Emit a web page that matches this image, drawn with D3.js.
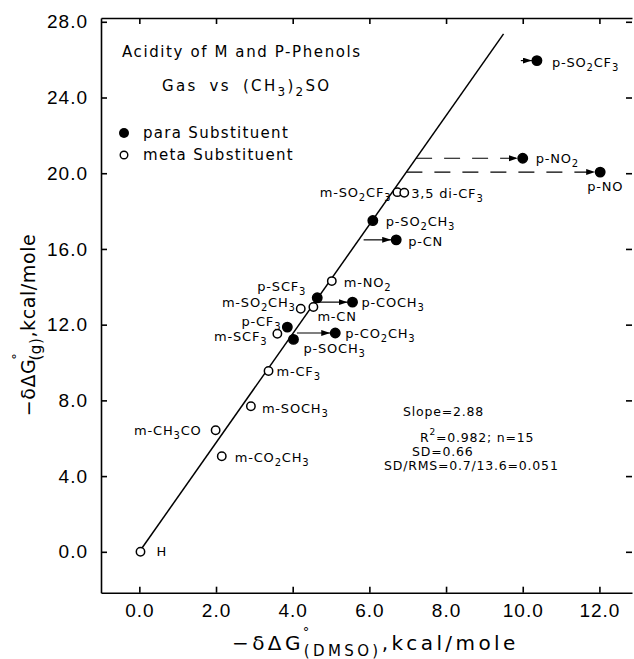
<!DOCTYPE html>
<meta charset="utf-8">
<style>
  body { margin: 0; background: #fff; }
  svg { font-family: "DejaVu Sans", sans-serif; }
  .axis path, .axis line { stroke: #000; stroke-width: 1.6; }
  .axis text { font-size: 19px; letter-spacing: 1px; fill: #000; }
  .lbl { font-size: 13px; letter-spacing: 0.8px; }
  .note { font-size: 15px; letter-spacing: 1.6px; }
  .fit { font-size: 12.5px; letter-spacing: 0.8px; }
  .title { font-size: 20px; letter-spacing: 3.4px; }
</style>
<svg width="634" height="659"></svg>
<script src="https://d3js.org/d3.v7.min.js"></script>
<script>
// substituents: -dG(DMSO) vs -dG(gas), kcal/mole
var names = ["H", "m-CO_2CH_3", "m-CH_3CO", "m-SOCH_3", "m-CF_3", "p-SOCH_3", "m-SCF_3", "p-CF_3",
  "p-CO_2CH_3", "m-SO_2CH_3", "m-CN", "p-COCH_3", "p-SCF_3", "m-NO_2", "p-CN", "p-SO_2CH_3",
  "m-SO_2CF_3", "3,5 di-CF_3", "p-NO", "p-NO_2", "p-SO_2CF_3"];
var dmso = [0.03, 2.15, 1.99, 2.91, 3.37, 4.02, 3.60, 3.86, 5.11, 4.21, 4.54, 5.56, 4.64, 5.02,
  6.70, 6.09, 6.73, 6.91, 12.02, 10.00, 10.37];
var gas = [0.0, 5.05, 6.42, 7.69, 9.55, 11.22, 11.52, 11.87, 11.56, 12.84, 12.93, 13.19, 13.42, 14.30,
  16.48, 17.50, 19.00, 18.97, 20.06, 20.79, 25.95];
var kind = ["m", "m", "m", "m", "m", "p", "m", "p", "p", "m", "m", "p", "p", "m", "p", "p", "m", "m", "p", "p", "p"];

// shifted para points: where the arrow starts (DMSO value), null = from the fit line
var arrowNames = ["p-CO_2CH_3", "p-COCH_3", "p-CN", "p-NO_2", "p-NO", "p-SO_2CF_3"];
var arrowFrom = [4.11, 4.67, 5.85, null, null, 9.95];
var arrowDashed = [false, false, false, true, true, false];

var slope = 2.88, lineStart = 0.07, lineEnd = 9.5;
var xTicks = [0, 2, 4, 6, 8, 10, 12];
var yTicks = [0, 4, 8, 12, 16, 20, 24, 28];
var fitText = ["Slope=2.88", "R^2=0.982; n=15", "SD=0.66", "SD/RMS=0.7/13.6=0.051"];
var titleLines = ["Acidity of M and P-Phenols", "Gas vs (CH_3)_2SO"];
var legendText = ["para Substituent", "meta Substituent"];

// label offsets from the point: dx, dy, anchor
var labelPos = {
  "H": [16, 4, "start"], "m-CO_2CH_3": [13, 6, "start"], "m-CH_3CO": [-14, 5, "end"],
  "m-SOCH_3": [11, 7, "start"], "m-CF_3": [8, 5, "start"], "p-SOCH_3": [10, 14, "start"],
  "m-SCF_3": [-10, 7, "end"], "p-CF_3": [-6, -1, "end"], "p-CO_2CH_3": [10, 5, "start"],
  "m-SO_2CH_3": [-5, -2, "end"], "m-CN": [4, 14, "start"], "p-COCH_3": [9, 5, "start"],
  "p-SCF_3": [-11, -7, "end"], "m-NO_2": [12, 6, "start"], "p-CN": [12, 6, "start"],
  "p-SO_2CH_3": [13, 5, "start"], "m-SO_2CF_3": [-6, 5, "end"], "3,5 di-CF_3": [7, 5, "start"],
  "p-NO": [-13, 19, "start"], "p-NO_2": [13, 5, "start"], "p-SO_2CF_3": [15, 6, "start"]
};

var svg = d3.select("svg");
var x = d3.scaleLinear().domain([-1, 12.85]).range([101, 632]);
var y = d3.scaleLinear().domain([-2.16, 28.2]).range([592.7, 18]);

// text with _n subscripts
function setText(t, str, small, shift) {
  var parts = str.split(/_(\d)/);
  parts.forEach(function (p, i) {
    if (!p) return;
    var ts = t.append("tspan").text(p);
    if (i % 2) ts.attr("font-size", small).attr("dy", shift);
    else if (i > 0) ts.attr("dy", -shift);
  });
}

svg.append("defs").append("marker")
  .attr("id", "head")
  .attr("markerUnits", "userSpaceOnUse")
  .attr("markerWidth", 10).attr("markerHeight", 8)
  .attr("refX", 9).attr("refY", 3)
  .attr("orient", "auto")
  .append("path").attr("d", "M0,0 L9,3 L0,6 Z").attr("fill", "#000");

// axes
svg.append("g").attr("class", "axis")
  .attr("transform", "translate(0," + y.range()[0] + ")")
  .call(d3.axisBottom(x).tickValues(xTicks).tickSize(-6).tickSizeOuter(0).tickPadding(11)
    .tickFormat(d3.format(".1f")));
svg.append("g").attr("class", "axis")
  .attr("transform", "translate(" + x.range()[0] + ",0)")
  .call(d3.axisLeft(y).tickValues(yTicks).tickSize(-6).tickSizeOuter(0).tickPadding(13)
    .tickFormat(d3.format(".1f")));
svg.append("g").attr("class", "axis")
  .attr("transform", "translate(0," + y.range()[1] + ")")
  .call(d3.axisTop(x).tickValues(xTicks).tickSize(-6).tickSizeOuter(0).tickFormat(""));
var right = svg.append("g").attr("class", "axis")
  .attr("transform", "translate(" + x.range()[1] + ",0)")
  .call(d3.axisRight(y).tickValues(yTicks).tickSize(-6).tickSizeOuter(0).tickFormat(""));
right.select(".domain").remove();

// fit line
svg.append("line")
  .attr("x1", x(lineStart)).attr("y1", y(slope * lineStart))
  .attr("x2", x(lineEnd)).attr("y2", y(slope * lineEnd))
  .attr("stroke", "#000").attr("stroke-width", 1.5);

var pts = names.map(function (n, i) { return { name: n, dx: dmso[i], g: gas[i], k: kind[i] }; });
var byName = {};
pts.forEach(function (d) { byName[d.name] = d; });

// arrows
arrowNames.forEach(function (n, i) {
  var d = byName[n];
  var from = arrowFrom[i] === null ? d.g / slope : arrowFrom[i];
  svg.append("line")
    .attr("x1", x(from)).attr("y1", y(d.g))
    .attr("x2", x(d.dx) - 5).attr("y2", y(d.g))
    .attr("stroke", "#000").attr("stroke-width", 1.2)
    .attr("stroke-dasharray", arrowDashed[i] ? "16,12" : null)
    .attr("marker-end", "url(#head)");
});

// points
svg.selectAll("circle.pt").data(pts).enter().append("circle")
  .attr("class", "pt")
  .attr("cx", function (d) { return x(d.dx); })
  .attr("cy", function (d) { return y(d.g); })
  .attr("r", function (d) { return d.k === "p" ? 4.7 : 4.2; })
  .attr("fill", function (d) { return d.k === "p" ? "#000" : "#fff"; })
  .attr("stroke", "#000").attr("stroke-width", 1.5);

// point labels
pts.forEach(function (d) {
  var p = labelPos[d.name];
  var t = svg.append("text").attr("class", "lbl")
    .attr("x", x(d.dx) + p[0]).attr("y", y(d.g) + p[1])
    .attr("text-anchor", p[2])
    .attr("font-size", d.name === "H" ? 10 : null);
  setText(t, d.name, 10, 4);
});

// title and legend
svg.append("text").attr("class", "note").attr("x", 122).attr("y", 57).text(titleLines[0]);
setText(svg.append("text").attr("class", "note").attr("x", 162).attr("y", 91)
  .style("letter-spacing", "2.3px").style("word-spacing", "5px"), titleLines[1], 12, 5);
svg.append("circle").attr("cx", 124).attr("cy", 133).attr("r", 5).attr("fill", "#000");
svg.append("circle").attr("cx", 124).attr("cy", 155).attr("r", 3.8)
  .attr("fill", "#fff").attr("stroke", "#000").attr("stroke-width", 1.4);
svg.append("text").attr("class", "note").attr("x", 143).attr("y", 138)
  .style("letter-spacing", "1.3px").text(legendText[0]);
svg.append("text").attr("class", "note").attr("x", 143).attr("y", 160)
  .style("letter-spacing", "1.3px").text(legendText[1]);

// fit statistics
var fitX = [403, 420, 412, 384], fitY = [416, 442, 456, 470];
fitText.forEach(function (s, i) {
  var t = svg.append("text").attr("class", "fit").attr("x", fitX[i]).attr("y", fitY[i]);
  var m = s.split("^2");
  if (m.length > 1) {
    t.append("tspan").text(m[0]);
    t.append("tspan").attr("font-size", 9).attr("dy", -7).text("2");
    t.append("tspan").attr("dy", 7).text(m[1]);
  } else t.text(s);
});

// axis titles
var xt = svg.append("text").attr("class", "title").attr("x", 232).attr("y", 650);
xt.append("tspan").text("\u2212\u03b4\u0394G");
xt.append("tspan").attr("font-size", 13).attr("dy", -14).attr("dx", -1).text("\u00b0");
xt.append("tspan").attr("font-size", 15).attr("dy", 20).attr("dx", -9).text("(DMSO)");
xt.append("tspan").attr("dy", -6).text(",kcal/mole");

var yt = svg.append("text").attr("class", "title").style("letter-spacing", "0.6px")
  .style("font-size", "19px")
  .attr("transform", "translate(35,325) rotate(-90)").attr("text-anchor", "middle");
yt.append("tspan").text("\u2212\u03b4\u0394G");
yt.append("tspan").attr("font-size", 13).attr("dy", -14).attr("dx", -1).text("\u00b0");
yt.append("tspan").attr("font-size", 15).attr("dy", 20).attr("dx", -8).text("(g)");
yt.append("tspan").attr("dy", -6).text(",kcal/mole");
</script>
